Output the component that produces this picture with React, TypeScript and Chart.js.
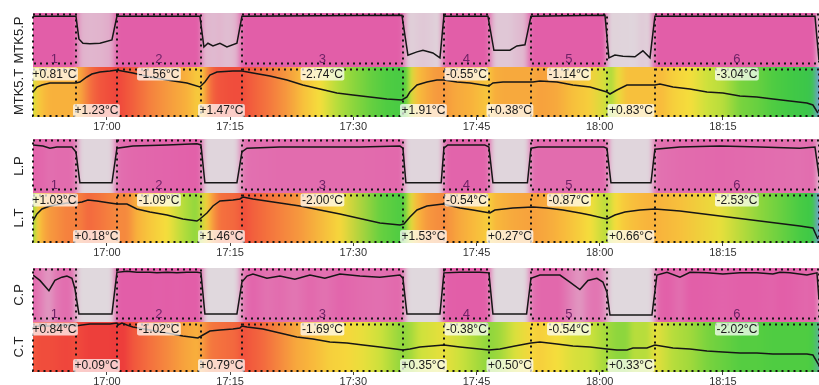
import React, { useEffect, useRef } from 'react';
import { Chart, registerables } from 'chart.js';

Chart.register(...registerables);

type Pt = [number, number];

const FONT = "'Liberation Sans', Arial, Helvetica, sans-serif";

// x axis: minutes relative to 17:00
const X_MIN = -9.0;
const X_MAX = 86.7;
const TICK_VALUES = [0, 15, 30, 45, 60, 75];
const TICK_LABELS = ['17:00', '17:15', '17:30', '17:45', '18:00', '18:15'];

// on-periods (segments), minutes relative to 17:00
const SEG_NAMES = ['1', '2', '3', '4', '5', '6'];
const SEG_START = [-9.0, 1.22, 16.44, 41.03, 51.63, 66.72];
const SEG_END = [-3.77, 11.45, 36.04, 46.51, 60.88, 86.69];

// ---- MTK5 ----
const MTK5_P: Pt[] = [
  [-9.0, 94], [-3.77, 94], [-3.41, 52], [-2.92, 44], [-2.07, 43], [-0.85, 44], [0.61, 50], [1.22, 94],
  [11.32, 94], [11.81, 37], [12.30, 44], [12.91, 39], [13.76, 44], [14.61, 37], [15.83, 44], [16.44, 94],
  [35.92, 96], [36.28, 59], [36.65, 22], [37.75, 28], [38.48, 31], [39.69, 26], [40.55, 17], [41.03, 94],
  [46.39, 94], [47.12, 31], [49.07, 31], [49.92, 39], [50.90, 41], [51.63, 94],
  [60.64, 96], [61.12, 17], [61.85, 22], [62.83, 20], [64.29, 19], [65.26, 30], [66.12, 17], [66.72, 94],
  [86.21, 94], [86.69, 13],
];
const MTK5_T: Pt[] = [
  [-9.0, 22.5], [-8.52, 23.0], [-7.91, 23.2], [-6.94, 23.4], [-4.87, 23.4], [-3.77, 23.4], [-3.29, 23.5],
  [-2.44, 24.0], [-1.83, 24.3], [-0.85, 24.5], [0.37, 24.6], [1.22, 24.7], [1.83, 24.6], [3.17, 24.4],
  [5.24, 24.0], [7.31, 23.7], [9.74, 23.4], [11.32, 23.0], [11.93, 23.5], [12.54, 24.2], [13.39, 24.5],
  [15.34, 24.6], [16.44, 24.6], [17.78, 24.4], [19.85, 24.1], [21.92, 23.7], [23.86, 23.2], [25.93, 22.8],
  [28.00, 22.4], [29.95, 22.2], [32.02, 22.0], [34.09, 21.8], [35.92, 21.7], [36.53, 22.0], [36.89, 22.5],
  [37.75, 23.2], [38.96, 23.5], [40.18, 23.7], [41.03, 23.7], [42.62, 23.5], [44.20, 23.4], [46.51, 23.1],
  [47.00, 23.4], [48.22, 23.5], [50.29, 23.5], [51.87, 23.5], [52.72, 23.6], [54.79, 23.5], [56.74, 23.2],
  [58.81, 23.0], [60.88, 22.5], [61.25, 22.3], [62.10, 22.7], [63.32, 23.2], [64.90, 23.2], [66.72, 23.2],
  [67.33, 23.3], [68.92, 23.0], [70.99, 22.8], [73.06, 22.5], [75.00, 22.4], [77.07, 22.1], [79.14, 22.0],
  [81.09, 21.8], [83.16, 21.6], [85.23, 21.4], [85.96, 21.2], [86.57, 20.4],
];
const MTK5_SEG_DELTA = ['+0.81°C', '-1.56°C', '-2.74°C', '-0.55°C', '-1.14°C', '-3.04°C'];
const MTK5_GAP_DELTA = ['+1.23°C', '+1.47°C', '+1.91°C', '+0.38°C', '+0.83°C'];

// ---- L ----
const L_P: Pt[] = [
  [-9.0, 89], [-7.79, 87], [-6.94, 83], [-6.09, 85], [-4.26, 85], [-3.77, 76], [-3.29, 19], [0.61, 19],
  [1.22, 83], [3.17, 87], [7.31, 89], [10.96, 91], [11.45, 89], [11.93, 19], [15.83, 19], [16.44, 76],
  [17.05, 83], [21.06, 85], [25.93, 85], [30.81, 85], [35.68, 87], [36.04, 83], [36.4, 19], [40.7, 19],
  [41.03, 83], [41.5, 89], [46.0, 89], [46.51, 85], [47.0, 19], [51.2, 19], [51.63, 83], [52.5, 85],
  [60.5, 85], [60.88, 83], [61.37, 19], [66.24, 19], [66.72, 81], [69.77, 85], [74.64, 87], [79.51, 85],
  [84.38, 83], [86.21, 85], [86.69, 33],
];
const L_T: Pt[] = [
  [-9.0, 22.2], [-8.52, 22.9], [-7.91, 23.4], [-6.94, 23.7], [-4.87, 24.0], [-3.77, 24.0], [-3.04, 24.1],
  [-2.31, 24.3], [-1.22, 24.2], [0.37, 24.0], [1.22, 23.9], [2.44, 23.9], [3.65, 23.4], [5.24, 23.1],
  [7.31, 22.8], [9.25, 22.4], [10.96, 22.2], [11.32, 22.4], [12.18, 23.0], [12.91, 23.7], [13.76, 24.2],
  [15.34, 24.3], [16.19, 24.4], [16.56, 24.6], [17.78, 24.4], [21.06, 24.0], [23.50, 23.7], [28.37, 22.9],
  [33.24, 22.0], [35.68, 21.8], [36.16, 21.9], [36.89, 22.6], [37.75, 23.3], [38.96, 23.7], [40.91, 23.9],
  [41.40, 23.8], [42.98, 23.5], [44.56, 23.3], [46.63, 23.0], [47.24, 23.3], [49.43, 23.5], [51.87, 23.6],
  [53.57, 23.5], [55.52, 23.3], [57.59, 23.0], [58.81, 22.8], [60.88, 22.4], [61.85, 22.8], [63.07, 23.1],
  [64.90, 23.3], [66.72, 23.4], [69.77, 23.2], [74.64, 22.7], [79.51, 22.2], [84.38, 21.7], [85.96, 21.5],
  [86.57, 20.4],
];
const L_SEG_DELTA = ['+1.03°C', '-1.09°C', '-2.00°C', '-0.54°C', '-0.87°C', '-2.53°C'];
const L_GAP_DELTA = ['+0.18°C', '+1.46°C', '+1.53°C', '+0.27°C', '+0.66°C'];

// ---- C ----
const C_P: Pt[] = [
  [-9.0, 87], [-8.16, 77], [-7.06, 58], [-6.33, 77], [-5.48, 83], [-4.87, 85], [-4.26, 81], [-3.90, 62],
  [-3.41, 15], [0.61, 15], [1.22, 92], [2.44, 94], [3.65, 92], [5.24, 92], [6.09, 91], [7.31, 92],
  [8.52, 91], [9.74, 92], [10.96, 92], [11.45, 91], [11.93, 15], [15.83, 15], [16.44, 74], [17.05, 85],
  [17.78, 89], [19.48, 81], [21.06, 85], [22.89, 79], [24.72, 87], [26.54, 81], [28.37, 89], [30.81, 85],
  [33.24, 83], [35.68, 87], [36.04, 81], [36.53, 15], [40.55, 15], [41.03, 91], [42.98, 92], [45.4, 92],
  [46.51, 91], [47.0, 15], [51.1, 15], [51.63, 81], [52.72, 87], [55.16, 87], [56.37, 74], [57.59, 60],
  [58.57, 77], [59.66, 81], [60.39, 74], [60.88, 55], [61.25, 13], [66.36, 13], [66.97, 87], [68.19, 92],
  [69.77, 83], [70.99, 92], [73.06, 91], [75.00, 89], [77.07, 91], [79.14, 91], [81.09, 89], [81.94, 92],
  [83.16, 91], [85.23, 87], [86.45, 91], [86.69, 43],
];
const C_T: Pt[] = [
  [-9.0, 24.5], [-8.16, 24.6], [-6.94, 24.6], [-4.87, 24.7], [-3.77, 24.6], [-3.04, 24.7], [-2.07, 24.8],
  [-0.85, 24.8], [0.37, 24.8], [1.22, 24.9], [1.34, 24.7], [1.83, 24.9], [2.44, 24.7], [3.17, 24.5],
  [5.24, 24.2], [7.31, 23.9], [9.25, 23.6], [11.08, 23.4], [11.69, 23.7], [12.54, 24.1], [13.76, 24.2],
  [15.34, 24.3], [16.19, 24.4], [16.44, 24.6], [17.05, 24.5], [18.99, 24.3], [21.06, 23.9], [23.13, 23.5],
  [25.08, 23.3], [27.15, 23.0], [29.22, 22.9], [31.17, 22.7], [33.24, 22.5], [36.04, 22.2], [36.89, 22.3],
  [38.11, 22.5], [41.03, 22.7], [42.98, 22.5], [46.51, 22.2], [47.85, 22.3], [49.68, 22.6], [51.63, 22.9],
  [52.72, 23.0], [54.79, 22.8], [56.74, 22.6], [58.81, 22.5], [60.88, 22.3], [62.10, 22.2], [63.32, 22.2],
  [64.05, 22.4], [65.75, 22.4], [66.72, 22.7], [68.92, 22.4], [70.99, 22.3], [73.06, 22.1], [75.00, 22.0],
  [77.07, 21.9], [79.14, 21.9], [81.09, 21.8], [83.16, 21.8], [85.23, 21.8], [85.96, 21.7], [86.69, 20.7],
];
const C_SEG_DELTA = ['+0.84°C', '-1.02°C', '-1.69°C', '-0.38°C', '-0.54°C', '-2.02°C'];
const C_GAP_DELTA = ['+0.09°C', '+0.79°C', '+0.35°C', '+0.50°C', '+0.33°C'];

const P_RANGE = [0, 100];
const T_RANGE = [20, 25];

type Group = {
  pTitle: string;
  tTitle: string;
  p: Pt[];
  t: Pt[];
  segDelta: string[];
  gapDelta: string[];
};

const GROUPS: Group[] = [
  { pTitle: 'MTK5.P', tTitle: 'MTK5.T', p: MTK5_P, t: MTK5_T, segDelta: MTK5_SEG_DELTA, gapDelta: MTK5_GAP_DELTA },
  { pTitle: 'L.P', tTitle: 'L.T', p: L_P, t: L_T, segDelta: L_SEG_DELTA, gapDelta: L_GAP_DELTA },
  { pTitle: 'C.P', tTitle: 'C.T', p: C_P, t: C_T, segDelta: C_SEG_DELTA, gapDelta: C_GAP_DELTA },
];
const GROUP_TOPS = [0, 126, 255];
const CANVAS_W = 819;
const CANVAS_H = 135;

// colour maps
const T_STOPS: [number, number[]][] = [
  [0.0, [110, 150, 215]],
  [0.1, [115, 165, 205]],
  [0.2, [60, 192, 90]],
  [0.3, [60, 200, 70]],
  [0.38, [85, 205, 65]],
  [0.45, [150, 215, 60]],
  [0.5, [205, 225, 60]],
  [0.56, [245, 222, 60]],
  [0.66, [248, 185, 60]],
  [0.76, [246, 145, 62]],
  [0.86, [243, 105, 62]],
  [0.93, [240, 72, 60]],
  [1.0, [234, 50, 58]],
];
const P_LOW = [224, 216, 221];
const P_HIGH = [226, 94, 168];

function mix(a: number[], b: number[], t: number) {
  return `rgb(${Math.round(a[0] + (b[0] - a[0]) * t)},${Math.round(a[1] + (b[1] - a[1]) * t)},${Math.round(
    a[2] + (b[2] - a[2]) * t
  )})`;
}
function tColor(v: number) {
  const f = Math.max(0, Math.min(1, (v - T_RANGE[0]) / (T_RANGE[1] - T_RANGE[0])));
  for (let i = 1; i < T_STOPS.length; i++) {
    if (f <= T_STOPS[i][0]) {
      const [f0, c0] = T_STOPS[i - 1];
      const [f1, c1] = T_STOPS[i];
      return mix(c0, c1, (f - f0) / (f1 - f0));
    }
  }
  return mix(T_STOPS[T_STOPS.length - 1][1], T_STOPS[T_STOPS.length - 1][1], 0);
}
function pColor(v: number) {
  const t = Math.max(0, Math.min(1, (v - 15) / 77));
  return mix(P_LOW, P_HIGH, Math.pow(t, 1.25));
}

function makeConfig(g: Group): any {
  const panelPlugin = {
    id: 'panels',
    beforeDatasetsDraw(chart: any) {
      const { ctx, chartArea: ca } = chart;
      const x = chart.scales.x;
      const yP = chart.scales.yP;
      const yT = chart.scales.yT;
      const fillPanel = (pts: Pt[], ys: any, colorFn: (v: number) => string, blur: number) => {
        const x0 = x.getPixelForValue(pts[0][0]);
        const x1 = x.getPixelForValue(pts[pts.length - 1][0]);
        const grad = ctx.createLinearGradient(x0, 0, x1, 0);
        for (const [t, v] of pts) {
          const off = Math.min(1, Math.max(0, (x.getPixelForValue(t) - x0) / (x1 - x0)));
          grad.addColorStop(off, colorFn(v));
        }
        ctx.save();
        ctx.beginPath();
        ctx.rect(ca.left, ys.top, ca.right - ca.left, ys.bottom - ys.top);
        ctx.clip();
        ctx.filter = `blur(${blur}px)`;
        ctx.fillStyle = grad;
        ctx.fillRect(ca.left - 30, ys.top - 30, ca.right - ca.left + 60, ys.bottom - ys.top + 60);
        ctx.restore();
      };
      fillPanel(g.p, yP, pColor, 2.5);
      fillPanel(g.t, yT, tColor, 2);

      ctx.save();
      ctx.beginPath();
      ctx.rect(ca.left - 2, ca.top - 2, ca.right - ca.left + 2, ca.bottom - ca.top + 4);
      ctx.clip();
      ctx.strokeStyle = '#151515';
      ctx.lineWidth = 2;
      ctx.setLineDash([2, 4]);
      SEG_START.forEach((s, i) => {
        const xa = Math.round(x.getPixelForValue(s));
        const xb = Math.round(x.getPixelForValue(SEG_END[i]));
        ctx.strokeRect(xa, yP.top + 1.5, xb - xa, yP.bottom - yP.top - 5);
        ctx.strokeRect(xa, yT.top + 2.5, xb - xa, yT.bottom - yT.top - 3.5);
      });
      ctx.restore();
    },
    afterDatasetsDraw(chart: any) {
      const { ctx } = chart;
      const x = chart.scales.x;
      const yP = chart.scales.yP;
      const yT = chart.scales.yT;
      ctx.save();
      ctx.textAlign = 'center';
      const box = (text: string, cx: number, yTop: number) => {
        ctx.font = `12px ${FONT}`;
        const w = ctx.measureText(text).width + 3;
        const h = 13;
        ctx.fillStyle = 'rgba(255,255,255,0.72)';
        ctx.beginPath();
        ctx.roundRect(cx - w / 2, yTop, w, h, 2);
        ctx.fill();
        ctx.fillStyle = '#1a1a1a';
        ctx.textBaseline = 'middle';
        ctx.fillText(text, cx, yTop + h / 2 + 0.5);
      };
      SEG_START.forEach((s, i) => {
        const xa = x.getPixelForValue(s);
        const xb = x.getPixelForValue(SEG_END[i]);
        const cx = (xa + xb) / 2;
        ctx.font = `13px ${FONT}`;
        ctx.fillStyle = '#6e2266';
        ctx.textBaseline = 'alphabetic';
        ctx.fillText(SEG_NAMES[i], cx, yP.bottom - 4);
        box(g.segDelta[i], cx, yT.top + 0.5);
        if (i < SEG_START.length - 1) {
          const gx = (xb + x.getPixelForValue(SEG_START[i + 1])) / 2;
          box(g.gapDelta[i], gx, yT.bottom - 13);
        }
      });
      ctx.restore();
    },
  };

  const yCommon = {
    type: 'linear',
    position: 'left',
    stack: 'panel',
    ticks: { display: false },
    grid: { display: false },
    border: { display: false },
    afterFit: (s: any) => {
      s.width = 33;
    },
  };

  return {
    type: 'line',
    data: {
      datasets: [
        {
          data: g.p.map(([t, v]) => ({ x: t, y: v })),
          yAxisID: 'yP',
          borderColor: '#161616',
          borderWidth: 1.5,
          pointRadius: 0,
          tension: 0,
          fill: false,
        },
        {
          data: g.t.map(([t, v]) => ({ x: t, y: v })),
          yAxisID: 'yT',
          borderColor: '#161616',
          borderWidth: 1.5,
          pointRadius: 0,
          tension: 0,
          fill: false,
        },
      ],
    },
    options: {
      animation: false,
      responsive: false,
      events: [],
      layout: { padding: { top: 13, left: 0, right: 0, bottom: 0 } },
      plugins: { legend: { display: false }, tooltip: { enabled: false } },
      scales: {
        x: {
          type: 'linear',
          min: X_MIN,
          max: X_MAX,
          afterBuildTicks: (s: any) => {
            s.ticks = TICK_VALUES.map((v) => ({ value: v }));
          },
          afterFit: (s: any) => {
            s.height = 18;
          },
          ticks: {
            callback: (v: any) => TICK_LABELS[TICK_VALUES.indexOf(Number(v))] ?? '',
            font: { family: FONT, size: 11 },
            color: '#333',
            padding: 0,
            maxRotation: 0,
            autoSkip: false,
          },
          grid: { display: true, drawOnChartArea: false, drawTicks: true, tickLength: 3, color: '#444' },
          border: { display: false },
        },
        yP: {
          ...yCommon,
          weight: 1,
          stackWeight: 54,
          min: P_RANGE[0],
          max: P_RANGE[1],
          title: { display: true, text: g.pTitle, font: { family: FONT, size: 13 }, color: '#222', padding: { top: 12, bottom: 0 } },
        },
        yT: {
          ...yCommon,
          weight: 0,
          stackWeight: 50,
          min: T_RANGE[0],
          max: T_RANGE[1],
          title: { display: true, text: g.tTitle, font: { family: FONT, size: 13 }, color: '#222', padding: { top: 12, bottom: 0 } },
        },
      },
    },
    plugins: [panelPlugin],
  };
}

function GroupChart({ group, top }: { group: Group; top: number }) {
  const ref = useRef<HTMLCanvasElement | null>(null);
  useEffect(() => {
    if (!ref.current) return;
    const chart = new Chart(ref.current, makeConfig(group));
    return () => chart.destroy();
  }, [group]);
  return (
    <canvas
      ref={ref}
      width={CANVAS_W}
      height={CANVAS_H}
      style={{ position: 'absolute', left: 0, top, width: CANVAS_W, height: CANVAS_H }}
    />
  );
}

export default function App() {
  return (
    <div
      style={{
        position: 'absolute',
        left: 0,
        top: 0,
        width: CANVAS_W,
        height: 385,
        overflow: 'hidden',
        background: '#fff',
      }}
    >
      {GROUPS.map((g, i) => (
        <GroupChart key={g.pTitle} group={g} top={GROUP_TOPS[i]} />
      ))}
    </div>
  );
}
